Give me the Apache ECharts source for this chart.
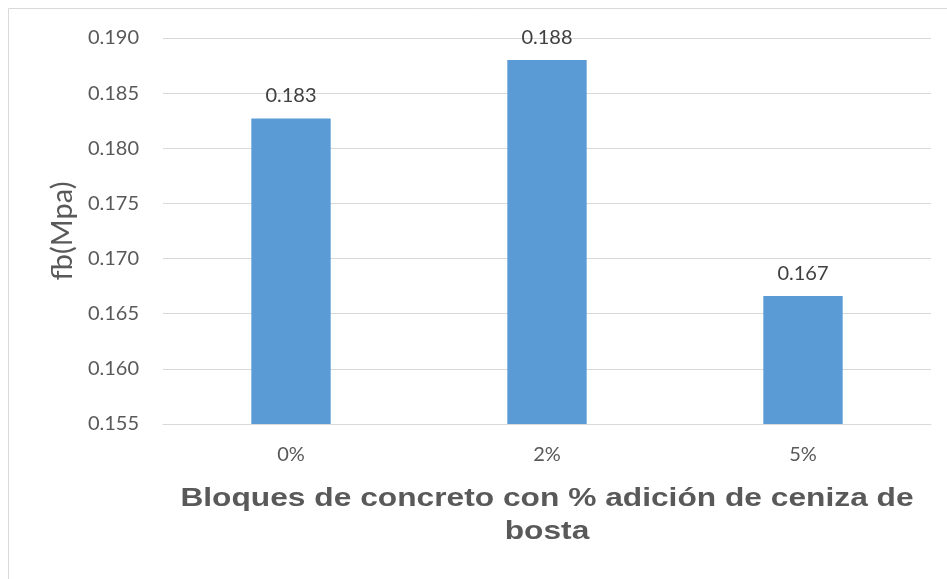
<!DOCTYPE html>
<html>
<head>
<meta charset="utf-8">
<script src="https://cdn.jsdelivr.net/npm/echarts@6/dist/echarts.min.js"></script>
<style>
  html, body { margin: 0; padding: 0; background: #fff; }
  #chart { width: 947px; height: 579px; }
</style>
</head>
<body>
<div id="chart"></div>
<script>
const categories = ['0%', '2%', '5%'];
const values = [0.1827, 0.188, 0.1666];
const labels = ['0.183', '0.188', '0.167'];
const xTitle = 'Bloques de concreto con % adición de ceniza de\nbosta';
const yTitle = 'fb(Mpa)';

const chart = echarts.init(document.getElementById('chart'));

const option = {
    animation: false,
    graphic: [
        {
            type: 'rect',
            shape: { x: 8.5, y: 8.5, width: 960, height: 600 },
            style: { fill: 'none', stroke: '#d9d9d9', lineWidth: 1 },
            z: -1
        },
        {
            // stretched a bit wider, like the source picture
            type: 'text',
            x: 547,
            y: 482,
            scaleX: 1.22,
            style: {
                text: xTitle,
                align: 'center',
                verticalAlign: 'top',
                fill: '#595959',
                fontSize: 26,
                fontWeight: 'bold',
                fontFamily: 'Liberation Sans',
                lineHeight: 33
            }
        }
    ],
    grid: { left: 163, right: 16, top: 38, bottom: 155 },
    xAxis: {
        type: 'category',
        data: categories,
        axisLine: { lineStyle: { color: '#d9d9d9', width: 1 } },
        axisTick: { show: false },
        axisLabel: { color: '#595959', fontSize: 20, fontFamily: 'Lato', margin: 21 }
    },
    yAxis: {
        type: 'value',
        min: 0.155,
        max: 0.19,
        interval: 0.005,
        axisLine: { show: false },
        axisTick: { show: false },
        splitLine: { lineStyle: { color: '#d9d9d9', width: 1 } },
        axisLabel: {
            color: '#595959', fontSize: 20, fontFamily: 'Lato', margin: 24,
            formatter: v => v.toFixed(3)
        },
        name: yTitle,
        nameLocation: 'middle',
        nameGap: 84,
        nameTextStyle: { color: '#595959', fontSize: 29, fontFamily: 'Lato' }
    },
    series: [
        {
            type: 'bar',
            data: values,
            barWidth: '31%',
            itemStyle: { color: '#5b9bd5' },
            label: {
                show: true,
                position: 'top',
                distance: 13,
                color: '#404040',
                fontSize: 20,
                fontFamily: 'Lato',
                formatter: p => labels[p.dataIndex]
            }
        }
    ]
};

chart.setOption(option);
</script>
</body>
</html>
